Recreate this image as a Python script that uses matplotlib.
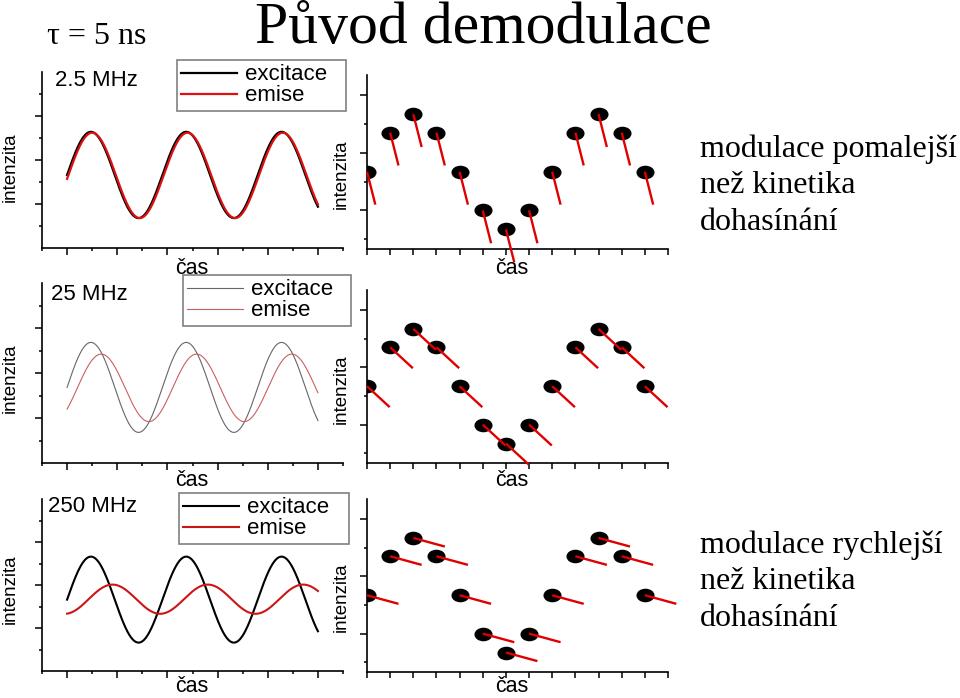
import numpy as np
import matplotlib
matplotlib.use('Agg')
import matplotlib.pyplot as plt
from matplotlib.path import Path
from matplotlib.transforms import Affine2D
from matplotlib.ticker import FixedLocator, MultipleLocator

plt.rcParams['font.family'] = ['Liberation Sans', 'DejaVu Sans']

W, H = 960, 698

# --- data ---
freq_labels = ['2.5 MHz', '25 MHz', '250 MHz']

# left panels: sinusoids, excitation vs emission (left y units)
t_start, t_end = 0.5, 5.5
period = 1.9
exc_mean = [1.66, 1.68, 1.66]
exc_amp = [0.98, 1.00, 1.00]
em_mean = [1.65, 1.67, 1.67]
em_amp = [0.97, 0.75, 0.34]
em_lag = [0.08, 0.68, 1.42]   # rad

# right panels: sampled excitation points + emission "stick"
dot_t = list(range(13))
dot_y = [1.67, 2.35, 2.67, 2.35, 1.67, 1.00, 0.67, 1.00, 1.67, 2.35, 2.67, 2.35, 1.67]
stick_dx = [0.36, 0.98, 1.36]
stick_dy = [-0.57, -0.365, -0.15]

# --- styles / layout (pixels) ---
exc_colors = ['#000000', '#666666', '#000000']
em_colors = ['#dd1111', '#c86060', '#cc1515']
line_w = [1.6, 0.8, 1.5]

left_boxes = [(42, 72, 343, 248), (42, 283, 343, 463), (42, 499, 343, 671)]
right_boxes = [(367, 75, 668, 249), (367, 290, 668, 463), (367, 499, 668, 672)]
leg_boxes = [(177, 60, 346, 110), (183, 275, 351, 326), (179, 493, 349, 542)]
freq_pos = [(55, 81), (51, 294), (48, 506)]
cas_y = [268, 481, 686]
int_left_y = [167, 378, 589]
int_right_y = [174, 389, 597]


def rect(l, t, r, b):
    return [l / W, 1 - b / H, (r - l) / W, (b - t) / H]


def fx(x):
    return x / W


def fy(y):
    return 1 - y / H


def style_axes(ax):
    ax.spines['top'].set_visible(False)
    ax.spines['right'].set_visible(False)
    for s in ['left', 'bottom']:
        ax.spines[s].set_linewidth(1.2)
    ax.tick_params(which='both', direction='out', width=1.1,
                   labelbottom=False, labelleft=False)
    ax.tick_params(which='major', length=5)
    ax.tick_params(which='minor', length=2.5)


ellipse = Path.unit_circle().transformed(Affine2D().scale(1.0, 0.73))

fig = plt.figure(figsize=(W / 100, H / 100), dpi=100)

t = np.linspace(t_start, t_end, 600)
for i in range(3):
    ax = fig.add_axes(rect(*left_boxes[i]))
    ph = 2 * np.pi * (t - t_start) / period
    exc = exc_mean[i] + exc_amp[i] * np.sin(ph)
    em = em_mean[i] + em_amp[i] * np.sin(ph - em_lag[i])
    ax.plot(t, exc, color=exc_colors[i], lw=line_w[i], label='excitace')
    ax.plot(t, em, color=em_colors[i], lw=line_w[i], label='emise')
    ax.set_xlim(0, 6)
    ax.set_ylim(0, 4)
    ax.xaxis.set_major_locator(FixedLocator([0.5, 1.5, 2.5, 3.5, 4.5, 5.5]))
    ax.xaxis.set_minor_locator(FixedLocator([0, 1, 2, 3, 4, 5, 6]))
    ax.yaxis.set_major_locator(FixedLocator([1, 2, 3]))
    ax.yaxis.set_minor_locator(FixedLocator([0.5, 1.5, 2.5, 3.5]))
    style_axes(ax)

    l, tp, r, b = leg_boxes[i]
    leg = ax.legend(loc='upper left', bbox_to_anchor=(fx(l), fy(b), (r - l) / W, (b - tp) / H),
                    bbox_transform=fig.transFigure, mode='expand', borderaxespad=0,
                    fancybox=False, edgecolor='#808080', framealpha=1, fontsize=16,
                    handlelength=2.5, handletextpad=0.35, labelspacing=0.0,
                    borderpad=0.2)
    leg.get_frame().set_linewidth(1.2)

    fig.text(fx(freq_pos[i][0]), fy(freq_pos[i][1]), freq_labels[i],
             ha='left', va='center', fontsize=16)
    fig.text(fx(192), fy(cas_y[i]), 'čas', ha='center', va='center', fontsize=15.5)
    fig.text(fx(10), fy(int_left_y[i]), 'intenzita', rotation=90,
             ha='center', va='center', fontsize=13.5)

for i in range(3):
    ax = fig.add_axes(rect(*right_boxes[i]))
    ax.plot(dot_t, dot_y, ls='none', marker=ellipse, ms=12,
            color='black', zorder=3)
    for tk, yk in zip(dot_t, dot_y):
        ax.plot([tk, tk + stick_dx[i]], [yk, yk + stick_dy[i]], color='#e00000',
                lw=1.7, solid_capstyle='butt', clip_on=False, zorder=4)
    ax.set_xlim(0, 13)
    ax.set_ylim(0.33, 3.35)
    ax.xaxis.set_major_locator(MultipleLocator(1))
    ax.yaxis.set_major_locator(FixedLocator([1, 2, 3]))
    ax.yaxis.set_minor_locator(FixedLocator([0.5, 1.5, 2.5]))
    style_axes(ax)
    ax.tick_params(axis='x', which='major', length=4)

    fig.text(fx(512), fy(cas_y[i]), 'čas', ha='center', va='center', fontsize=15.5)
    fig.text(fx(341), fy(int_right_y[i]), 'intenzita', rotation=90,
             ha='center', va='center', fontsize=13.5)

serif = ['Liberation Serif', 'DejaVu Serif']
fig.text(fx(483), fy(43), 'Původ demodulace', ha='center', va='baseline',
         fontsize=43, family=serif)
fig.text(fx(97), fy(44), 'τ = 5 ns', ha='center', va='baseline',
         fontsize=23, family=serif)

for y, s in zip([157, 193, 230], ['modulace pomalejší', 'než kinetika', 'dohasínání']):
    fig.text(fx(700), fy(y), s, ha='left', va='baseline', fontsize=23, family=serif)
for y, s in zip([553, 589, 626], ['modulace rychlejší', 'než kinetika', 'dohasínání']):
    fig.text(fx(700), fy(y), s, ha='left', va='baseline', fontsize=23, family=serif)

fig.savefig('out.png', dpi=100)
